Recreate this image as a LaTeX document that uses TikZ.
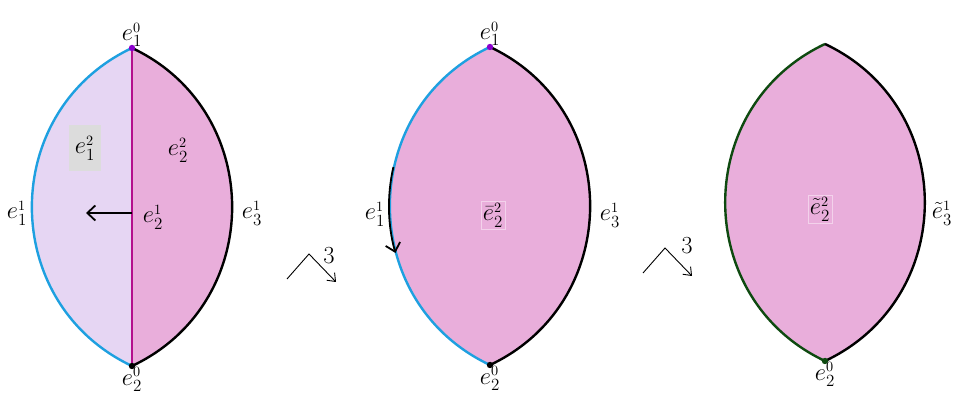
\documentclass[tikz,border=0pt]{standalone}
\usepackage{tikz}
\usetikzlibrary{arrows.meta,positioning}
\definecolor{lavfill}{HTML}{E6D6F3}
\definecolor{pinkfill}{HTML}{E9AEDB}
\definecolor{rimblue}{HTML}{1EA0E0}
\definecolor{rimmag}{HTML}{B4108C}
\definecolor{rimgreen}{HTML}{0E4A10}
\definecolor{vxpurple}{HTML}{8A00CC}
\definecolor{boxgray}{HTML}{DCDCDC}
\newcommand{\cellname}[3]{$#1_{#2}^{\scriptscriptstyle #3}$}

\begin{document}
\begin{tikzpicture}[x=1pt, y=1pt,
    lbl/.style={font=\LARGE, scale=1.42, inner sep=0.5pt},
    rim/.style={line width=2.4pt},
    bulgeL/.style={bend right=64.8, looseness=1.19},
    bulgeR/.style={bend left=64.8, looseness=1.19},
    push/.style={-{Straight Barb[length=8pt,width=15pt]}, line width=1.8pt},
    collapse/.style={-{Straight Barb[length=7pt,width=11pt]}, line width=0.9pt},
    faintbox/.style={draw=pinkfill!55!white, line width=0.2pt, inner sep=1.5pt}
  ]
    \useasboundingbox (0,0) rectangle (953,403);

    %% -- left lens --
    \coordinate (la) at (132,355);
    \coordinate (lb) at (132,37);
    \fill[lavfill]  (la) to[bulgeL] (lb) -- cycle;
    \fill[pinkfill] (la) to[bulgeR] (lb) -- cycle;
    \draw[rim, rimblue] (la) to[bulgeL] (lb);
    \draw[rim]          (la) to[bulgeR] (lb);
    \draw[line width=1.6pt, rimmag] (la) -- (lb);
    \coordinate (lm) at (132,190);
    \coordinate (lp) at (86,190);
    \draw[push] (lm) -- (lp);
    \fill[vxpurple] (la) circle (3.2);
    \fill           (lb) circle (3.2);

    \node[lbl, above=0pt of la] (la0) {\cellname{e}{1}{0}};
    \node[lbl, below=0pt of lb] (lb0) {\cellname{e}{2}{0}};
    \node[lbl] (l11) at (17,190)  {\cellname{e}{1}{1}};
    \node[lbl] (l31) at (252,190) {\cellname{e}{3}{1}};
    \node[lbl] (l21) at (153,186) {\cellname{e}{2}{1}};
    \node[lbl] (l22) at (178,253) {\cellname{e}{2}{2}};
    \node[lbl, fill=boxgray, minimum width=22pt, minimum height=33pt] (l12) at (85,255) {\cellname{e}{1}{2}};

    %% -- first collapse --
    \coordinate (za0) at (287,124);
    \coordinate (za1) at (309,149);
    \coordinate (za2) at (336,121);
    \draw[collapse] (za0) -- (za1) -- (za2);
    \node[lbl] (za3) at (329,147) {3};

    %% -- middle lens --
    \coordinate (ma) at (490,356);
    \coordinate (mb) at (490,38);
    \coordinate (mc) at (564.7,197);
    \fill[pinkfill] (ma) to[bulgeL] (mb) to[bulgeL] (ma) -- cycle;
    \draw[rim, rimblue] (ma) to[bulgeL] (mb);
    \draw[rim]          (ma) to[bulgeR] (mb);
    \draw[push] ([shift={(167.2:175.7)}]mc) arc[start angle=167.2, end angle=195.5, radius=175.7];
    \fill[vxpurple] (ma) circle (3.2);
    \fill           (mb) circle (3.2);

    \node[lbl, above=0pt of ma] (ma0) {\cellname{e}{1}{0}};
    \node[lbl, below=0pt of mb] (mb0) {\cellname{e}{2}{0}};
    \node[lbl] (m11) at (375,189) {\cellname{e}{1}{1}};
    \node[lbl] (m31) at (610,188) {\cellname{e}{3}{1}};
    \node[lbl, faintbox] (m22) at (493,188) {\cellname{\bar{e}}{2}{2}};

    %% -- second collapse --
    \coordinate (zb0) at (643,130);
    \coordinate (zb1) at (665,155);
    \coordinate (zb2) at (692,127);
    \draw[collapse] (zb0) -- (zb1) -- (zb2);
    \node[lbl] (zb3) at (687,157) {3};

    %% -- right lens --
    \coordinate (ra) at (825,359);
    \coordinate (rb) at (825,42);
    \fill[pinkfill] (ra) to[bulgeL] (rb) to[bulgeL] (ra) -- cycle;
    \draw[rim, rimgreen] (ra) to[bulgeL] (rb);
    \draw[rim]           (ra) to[bulgeR] (rb);
    \fill[rimgreen] (rb) circle (3.2);

    \node[lbl, below=0pt of rb] (rb0) {\cellname{e}{2}{0}};
    \node[lbl, faintbox] (r22) at (820,194) {\cellname{\tilde{e}}{2}{2}};
    \node[lbl] (r31) at (942,190) {\cellname{\tilde{e}}{3}{1}};
  \end{tikzpicture}
\end{document}
